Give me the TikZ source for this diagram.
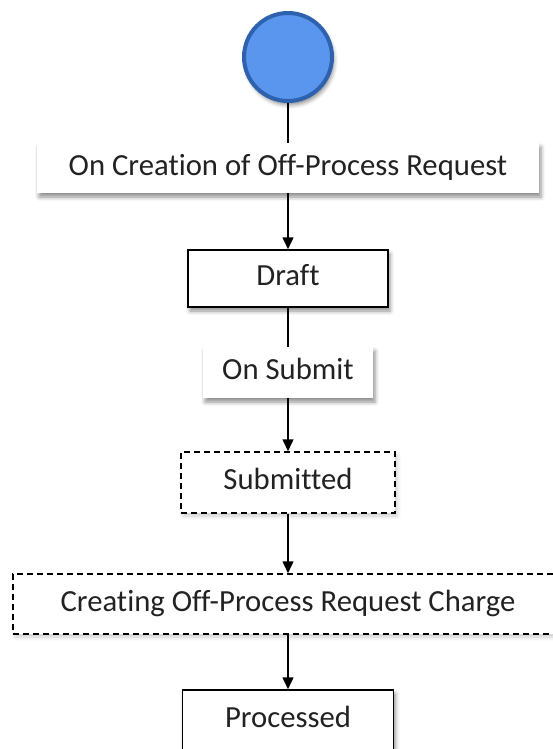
\documentclass[tikz,border=0pt]{standalone}
\usepackage{fontspec}
\setmainfont{Carlito}[Ligatures=NoCommon]
\usetikzlibrary{arrows.meta,shadows.blur}
\definecolor{startfill}{HTML}{5A96EE}
\definecolor{startdraw}{HTML}{2E62AE}
\definecolor{txt}{HTML}{222222}
\begin{document}
\begin{tikzpicture}[x=1pt,y=-1pt,
  every node/.style={font=\fontsize{30.7}{36}\selectfont, text=txt, inner sep=0pt, text height=20pt, text depth=6pt},
  conn/.style={draw=black, line width=1.5pt},
  arr/.style={conn, -{Triangle[length=12pt,width=11pt]}},
  shad/.style={blur shadow={shadow xshift=2pt, shadow yshift=-4pt, shadow blur radius=4pt, shadow opacity=45}},
  lightshad/.style={blur shadow={shadow xshift=2pt, shadow yshift=-3pt, shadow blur radius=4pt, shadow opacity=20}},
  labelbox/.style={fill=white, shad},
  statebox/.style={fill=white, draw=black, line width=1.5pt, shad},
  dashbox/.style={fill=white, draw=black, line width=1.5pt, dash pattern=on 6pt off 4pt, lightshad}]
\clip (0,0) rectangle (553,749);
\node[circle, fill=startfill, draw=startdraw, line width=4pt, minimum size=88pt, shad] (start) at (288,57) {};
\node[labelbox, minimum width=502pt, minimum height=50pt] (oncreate) at (288,168) {On Creation of Off-Process Request};
\node[statebox, minimum width=200pt, minimum height=57pt] (draft) at (288,278.5) {Draft};
\node[labelbox, minimum width=170pt, minimum height=51pt] (onsubmit) at (288,372.5) {On Submit};
\node[dashbox, minimum width=214pt, minimum height=61pt] (submitted) at (288,482.5) {Submitted};
\node[dashbox, minimum width=550pt, minimum height=60pt] (creating) at (288,604) {Creating Off-Process Request Charge};
\node[statebox, minimum width=211pt, minimum height=60pt] (processed) at (288,720) {Processed};
\draw[conn] (start) -- (oncreate);
\draw[arr] (oncreate) -- (draft);
\draw[conn] (draft) -- (onsubmit);
\draw[arr] (onsubmit) -- (submitted);
\draw[arr] (submitted) -- (creating);
\draw[arr] (creating) -- (processed);
\end{tikzpicture}
\end{document}
